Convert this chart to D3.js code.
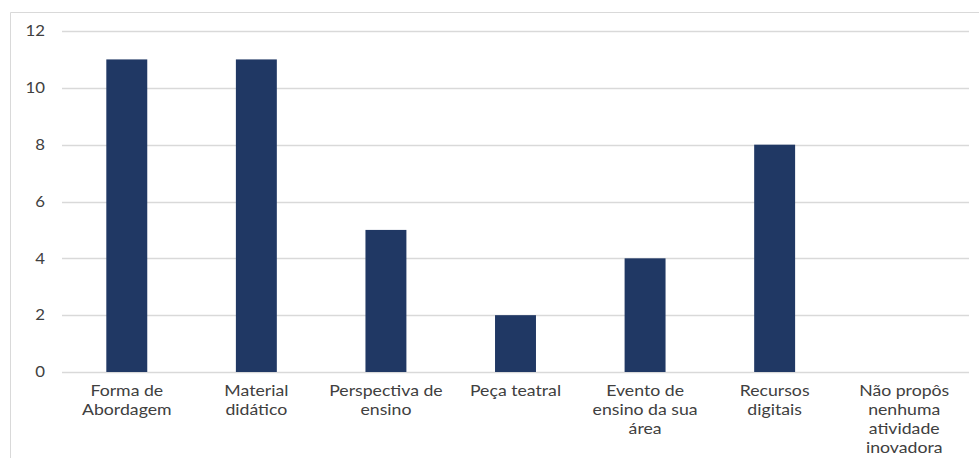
<!DOCTYPE html>
<html>
<head>
<meta charset="utf-8">
<script src="https://cdn.jsdelivr.net/npm/d3@7"></script>
<style>
  html, body { margin: 0; padding: 0; background: #fff; }
  svg { display: block; }
  text { font-family: Lato, "Open Sans", sans-serif; fill: #404040; }
</style>
</head>
<body>
<svg id="chart" width="979" height="458"></svg>
<script>
// Categories (line-broken as shown under the axis)
const categories = [
  ["Forma de", "Abordagem"],
  ["Material", "didático"],
  ["Perspectiva de", "ensino"],
  ["Peça teatral"],
  ["Evento de", "ensino da sua", "área"],
  ["Recursos", "digitais"],
  ["Não propôs", "nenhuma", "atividade", "inovadora"]
];
const values = [11, 11, 5, 2, 4, 8, 0];
const yTicks = [0, 2, 4, 6, 8, 10, 12];

const svg = d3.select("#chart");
const W = 979, H = 458;
const plot = { left: 62, right: 969, top: 31, bottom: 372 };

// outer chart border (top and left edges visible)
svg.append("path")
  .attr("d", `M10.5,${H} L10.5,12.5 L${W},12.5`)
  .attr("fill", "none")
  .attr("stroke", "#d9d9d9")
  .attr("stroke-width", 1);

const x = d3.scaleBand()
  .domain(d3.range(categories.length))
  .range([plot.left, plot.right])
  .paddingInner(0.684)
  .paddingOuter(0.342);

const y = d3.scaleLinear().domain([0, 12]).range([plot.bottom, plot.top]);

// gridlines
svg.append("g")
  .selectAll("line")
  .data(yTicks)
  .join("line")
  .attr("x1", plot.left).attr("x2", plot.right)
  .attr("y1", d => Math.round(y(d)) + 0.5).attr("y2", d => Math.round(y(d)) + 0.5)
  .attr("stroke", "#d9d9d9")
  .attr("stroke-width", 1.5);

// y axis labels (slightly wide lettering)
const yAxis = d3.axisLeft(y).tickValues(yTicks).tickSize(0).tickPadding(0);
const gy = svg.append("g").attr("transform", "translate(45,0)").call(yAxis);
gy.select(".domain").remove();
gy.selectAll("text")
  .attr("font-size", 15)
  .attr("font-family", "Lato, 'Open Sans', sans-serif")
  .attr("fill", "#404040")
  .attr("transform", "scale(1.12,1)");

// bars
svg.append("g")
  .selectAll("rect")
  .data(values)
  .join("rect")
  .attr("x", (d, i) => x(i))
  .attr("width", x.bandwidth())
  .attr("y", d => y(d))
  .attr("height", d => y(0) - y(d))
  .attr("fill", "#203864");

// category labels, centred under each bar, stretched horizontally
const labels = svg.append("g")
  .selectAll("text")
  .data(categories)
  .join("text")
  .attr("text-anchor", "middle")
  .attr("font-size", 14.5)
  .attr("transform", (d, i) => `translate(${x(i) + x.bandwidth() / 2},396) scale(1.22,1)`);
labels.selectAll("tspan")
  .data(d => d)
  .join("tspan")
  .attr("x", 0)
  .attr("dy", (d, i) => i === 0 ? 0 : 19)
  .text(d => d);
</script>
</body>
</html>
